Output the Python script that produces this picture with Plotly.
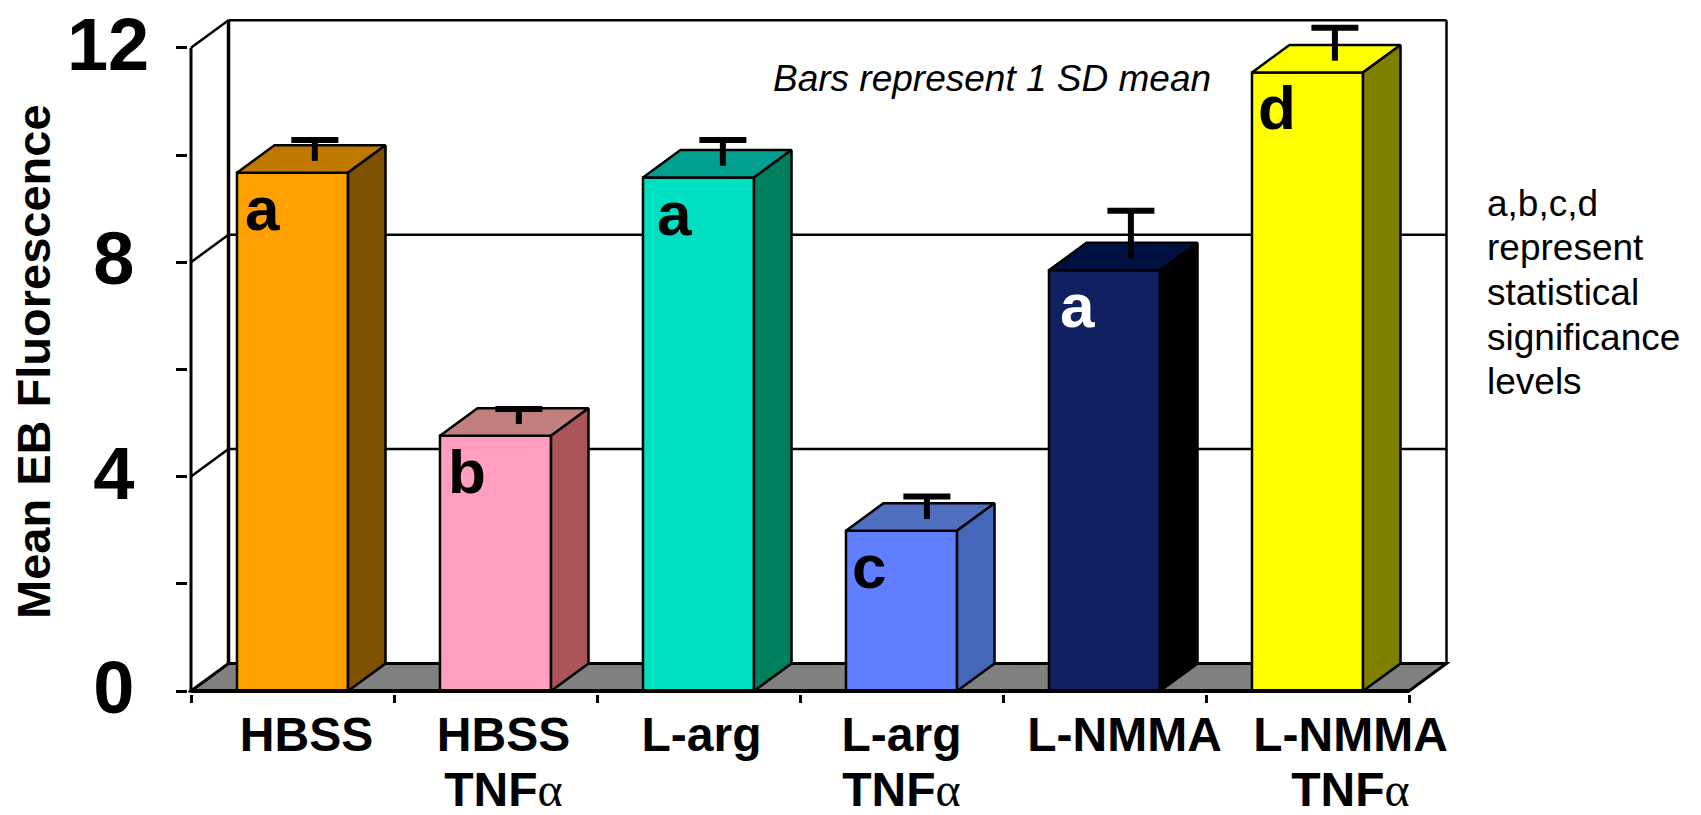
import plotly.graph_objects as go


def big(s):
    return f'<span style="font-size:48px">{s}</span>'


alpha = '<span style="font-family:Liberation Serif;font-weight:normal;font-size:48px">α</span>'
tnf = "<br>" + big("TNF") + alpha

categories = ["HBSS", "HBSS TNFa", "L-arg", "L-arg TNFa", "L-NMMA", "L-NMMA TNFa"]
tick_labels = [big("HBSS"), big("HBSS") + tnf, big("L-arg"), big("L-arg") + tnf, big("L-NMMA"), big("L-NMMA") + tnf]
means = [9.67, 4.76, 9.58, 2.99, 7.85, 11.54]
sds = [0.35, 0.24, 0.44, 0.38, 0.85, 0.575]
letters = ["a", "b", "a", "c", "a", "d"]
letter_colors = ["black", "black", "black", "black", "white", "black"]
front_colors = ["#FFA000", "#FF9EBE", "#00DFBF", "#5F7FFF", "#102060", "#FFFF00"]
top_colors = ["#BF7800", "#C17F7F", "#009F8F", "#5070BF", "#001040", "#FFFF00"]
side_colors = ["#7F5000", "#AA5558", "#007F5F", "#4466BB", "#000000", "#808000"]
y_ticks = [0, 4, 8, 12]
y_tick_text = ["0\u2009", "4\u2009", "8\u2009", "12"]
y_minor = [2, 6, 10]
note_lines = ["a,b,c,d", "represent", "statistical", "significance", "levels"]

# axis scale in pixels, everything else is derived from it
L, R, T, B = 188, 1450, 18, 694
PX_X = 203.0
PX_Y = 53.6
X0 = 292.5
Y0 = 691
BAR_W = 0.547
DEPTH_X = 37.5 / PX_X
DEPTH_Y = 27.5 / PX_Y
FONT = "Liberation Sans"

n = len(means)
xs = list(range(n))
x_min, x_max = -0.5, n - 0.5


def px_x(px):
    return (px - L) / (R - L)


def px_y(px):
    return (B - px) / (B - T)


def line(x0, y0, x1, y1, width=2.5, layer="below"):
    return dict(type="line", x0=x0, y0=y0, x1=x1, y1=y1, layer=layer,
                line=dict(color="black", width=width))


shapes = []
# floor
shapes.append(dict(
    type="path", layer="below", fillcolor="#808080", line=dict(color="black", width=3),
    path=f"M{x_min},0 L{x_max},0 L{x_max + DEPTH_X},{DEPTH_Y} L{x_min + DEPTH_X},{DEPTH_Y} Z",
))
# back wall and grid
for v in y_ticks[1:]:
    shapes.append(line(x_min + DEPTH_X, v + DEPTH_Y, x_max + DEPTH_X, v + DEPTH_Y))
    shapes.append(line(x_min, v, x_min + DEPTH_X, v + DEPTH_Y))
shapes.append(line(x_min + DEPTH_X, DEPTH_Y, x_min + DEPTH_X, 12 + DEPTH_Y, 3.5))
shapes.append(line(x_max + DEPTH_X, DEPTH_Y, x_max + DEPTH_X, 12 + DEPTH_Y, 2.5))
# front axis lines
shapes.append(line(x_min, 0, x_min, 12, 3, "above"))
shapes.append(line(x_min, 0, x_max, 0, 4, "above"))

fig = go.Figure()

fig.add_trace(go.Bar(
    x=xs, y=means, width=BAR_W, marker=dict(color=front_colors, line=dict(color="black", width=2.5)),
    name="Mean EB Fluorescence", showlegend=False,
))

# top and side faces of each bar
for i in range(n):
    left = xs[i] - BAR_W / 2
    right = xs[i] + BAR_W / 2
    h = means[i]
    fig.add_trace(go.Scatter(
        x=[left, right, right + DEPTH_X, left + DEPTH_X, left],
        y=[h, h, h + DEPTH_Y, h + DEPTH_Y, h],
        mode="lines", fill="toself", fillcolor=top_colors[i],
        line=dict(color="black", width=2.5), showlegend=False, hoverinfo="skip",
    ))
    fig.add_trace(go.Scatter(
        x=[right, right + DEPTH_X, right + DEPTH_X, right, right],
        y=[0, DEPTH_Y, h + DEPTH_Y, h, 0],
        mode="lines", fill="toself", fillcolor=side_colors[i],
        line=dict(color="black", width=2.5), showlegend=False, hoverinfo="skip",
    ))

# error bars stand in the middle of the bar depth
cap = 23.5 / PX_X
for i in range(n):
    ex = xs[i] + 0.11 + 0.005 * i
    base = means[i] + 0.22
    top = means[i] + 0.26 + sds[i]
    fig.add_trace(go.Scatter(
        x=[ex, ex, None, ex - cap, ex + cap], y=[base, top, None, top, top],
        mode="lines", line=dict(color="black", width=6), showlegend=False, hoverinfo="skip",
    ))

# letters were placed by hand in the original, so a small nudge per bar
letter_nudge = [6, 6, 12, 4, 9, 4]
annotations = []
for i in range(n):
    annotations.append(dict(
        x=xs[i] - BAR_W / 2, y=means[i], xref="x", yref="y", text=f"<b>{letters[i]}</b>",
        showarrow=False, xanchor="left", yanchor="top", xshift=letter_nudge[i], yshift=1,
        font=dict(family=FONT, size=62, color=letter_colors[i]),
    ))

annotations.append(dict(
    x=px_x(771), y=px_y(78), xref="paper", yref="paper", text="<i>Bars represent 1 SD mean</i>",
    showarrow=False, xanchor="left", yanchor="middle", font=dict(family=FONT, size=37, color="black"),
))
for k, txt in enumerate(note_lines):
    annotations.append(dict(
        x=px_x(1485), y=px_y(203 + 44.7 * k), xref="paper", yref="paper", text=txt,
        showarrow=False, xanchor="left", yanchor="middle", font=dict(family=FONT, size=37, color="black"),
    ))
annotations.append(dict(
    x=px_x(34), y=px_y(362), xref="paper", yref="paper", text="<b>Mean EB Fluorescence</b>",
    showarrow=False, xanchor="center", yanchor="middle", textangle=-90,
    font=dict(family=FONT, size=47, color="black"),
))

# text boxes under the bars were not quite centred
label_nudge = [14, 8, 3, 0, 20, 43]
label_pos = [xs[i] + label_nudge[i] / PX_X for i in range(n)]

fig.update_layout(
    width=1701, height=815, margin=dict(l=L, r=1701 - R, t=T, b=815 - B),
    paper_bgcolor="white", plot_bgcolor="white", showlegend=False,
    shapes=shapes, annotations=annotations,
    xaxis=dict(
        automargin=False,
        range=[(L - X0) / PX_X, (R - X0) / PX_X], showgrid=False, zeroline=False, showline=False,
        tickmode="array", tickvals=label_pos, ticktext=tick_labels, ticks="",
        tickfont=dict(family=FONT, size=42.3, color="black", weight="bold"), tickangle=0,
        ticklabelstandoff=14,
        minor=dict(tickmode="array", tickvals=[x_min + j for j in range(n + 1)], ticks="outside",
                   ticklen=8, tickwidth=3, tickcolor="black", showgrid=False),
    ),
    yaxis=dict(
        automargin=False,
        range=[(Y0 - B) / PX_Y, (Y0 - T) / PX_Y], showgrid=False, zeroline=False, showline=False,
        tickmode="array", tickvals=y_ticks, ticktext=y_tick_text, ticks="outside",
        ticklen=11, tickwidth=3, tickcolor="black",
        tickfont=dict(family=FONT, size=74, color="black", weight="bold"),
        ticklabelstandoff=12, ticklabelshift=-4,
        minor=dict(tickmode="array", tickvals=y_minor, ticks="outside",
                   ticklen=11, tickwidth=3, tickcolor="black", showgrid=False),
    ),
)

fig.write_html("out.html", config=dict(displayModeBar=False),
               post_script="document.body.style.margin='0';")
